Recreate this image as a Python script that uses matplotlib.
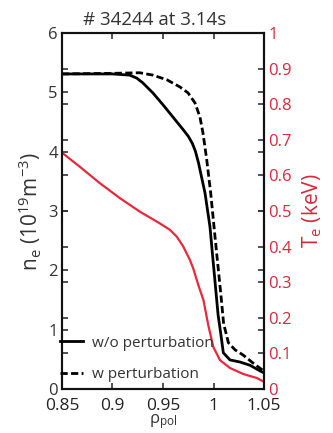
import matplotlib
matplotlib.use("Agg")
import matplotlib.pyplot as plt

plt.rcParams['font.family'] = ['Open Sans', 'DejaVu Sans']
plt.rcParams['mathtext.fontset'] = 'custom'
plt.rcParams['mathtext.rm'] = 'Open Sans'
plt.rcParams['mathtext.it'] = 'Open Sans'

# n_e without perturbation (solid)
rho_wo = [0.85, 0.90, 0.917, 0.924, 0.930, 0.940, 0.950, 0.960, 0.970, 0.975,
          0.979, 0.982, 0.985, 0.9916, 0.9965, 0.9995, 1.0025, 1.0045, 1.0071,
          1.0097, 1.0163, 1.0262, 1.0361, 1.0444, 1.05]
ne_wo = [5.31, 5.31, 5.29, 5.24, 5.16, 4.99, 4.79, 4.58, 4.37, 4.26,
         4.14, 4.01, 3.82, 3.30, 2.73, 2.17, 1.62, 1.25, 0.94,
         0.61, 0.49, 0.455, 0.40, 0.32, 0.27]

# n_e with perturbation (dashed)
rho_w = [0.85, 0.90, 0.927, 0.940, 0.954, 0.9668, 0.9748, 0.9817, 0.9866, 0.9896,
         0.9933, 0.9972, 1.0005, 1.0038, 1.0071, 1.0100, 1.0147, 1.0213, 1.0295,
         1.0378, 1.046, 1.05]
ne_w = [5.31, 5.32, 5.33, 5.29, 5.21, 5.09, 4.99, 4.82, 4.58, 4.31,
        3.86, 3.30, 2.73, 2.17, 1.62, 1.10, 0.78, 0.66, 0.57,
        0.455, 0.35, 0.30]

# T_e (red, right axis)
rho_te = [0.85, 0.8678, 0.8876, 0.9074, 0.9272, 0.947, 0.9569, 0.9636, 0.9701,
          0.9767, 0.980, 0.983, 0.986, 0.990, 0.9949, 0.9998, 1.0064, 1.0163,
          1.0295, 1.0428, 1.05]
te = [0.664, 0.624, 0.578, 0.536, 0.498, 0.465, 0.447, 0.428, 0.400,
      0.362, 0.338, 0.31, 0.283, 0.25, 0.178, 0.118, 0.081, 0.059,
      0.042, 0.031, 0.020]

xticks = [0.85, 0.9, 0.95, 1.0, 1.05]
xticklabels = ['0.85', '0.9', '0.95', '1', '1.05']
yticks_left = [0, 1, 2, 3, 4, 5, 6]
yticks_right = [0, 0.1, 0.2, 0.3, 0.4, 0.5, 0.6, 0.7, 0.8, 0.9, 1.0]
yticklabels_right = ['0', '0.1', '0.2', '0.3', '0.4', '0.5', '0.6', '0.7', '0.8', '0.9', '1']

RED = '#e8283c'
TXTRED = '#d42a3a'
GRAY = '#333333'

fig = plt.figure(figsize=(3.33, 4.33), dpi=100)
ax = fig.add_axes([0.186, 0.1016, 0.607, 0.8222])
ax2 = ax.twinx()

l1, = ax.plot(rho_wo, ne_wo, color='black', lw=2.0, label='w/o perturbation',
              solid_joinstyle='round')
l2, = ax.plot(rho_w, ne_w, color='black', lw=2.0, ls=(0, (2.6, 1.2)),
              label='w perturbation')
ax2.plot(rho_te, te, color=RED, lw=1.6, solid_joinstyle='round')

ax.set_xlim(0.85, 1.05)
ax.set_ylim(0, 6)
ax2.set_ylim(0, 1)
ax.set_xticks(xticks)
ax.set_xticklabels(xticklabels)
ax.set_yticks(yticks_left)
ax2.set_yticks(yticks_right)
ax2.set_yticklabels(yticklabels_right)

ax.tick_params(direction='in', length=4, width=1.2, labelsize=12, colors=GRAY,
               top=True, right=True, pad=3)
ax.tick_params(axis='x', pad=6.5, labelsize=12.5, labelcolor='#222222')
ax2.tick_params(direction='in', length=4, width=1.2, labelsize=12, left=True, pad=3)
ax2.tick_params(axis='y', labelcolor=TXTRED, color=GRAY)

for a in (ax, ax2):
    for s in a.spines.values():
        s.set_linewidth(1.5)
        s.set_color('#111111')

ax.set_title('# 34244 at 3.14s', fontsize=13.5, color=GRAY, pad=6, x=0.46)
ax.set_ylabel(r'n$_\mathregular{e}$ (10$^\mathregular{19}$m$^\mathregular{-3}$)',
              fontsize=15, color=GRAY, labelpad=3)
ax2.set_ylabel(r'T$_\mathregular{e}$ (keV)', fontsize=15, color=TXTRED, labelpad=6)
ax.set_xlabel(r'$\mathregular{\rho}_\mathregular{pol}$', fontsize=12, color=GRAY,
              va='bottom')
ax.xaxis.set_label_coords(0.5, -0.119)

leg = ax.legend(handles=[l1, l2], loc='lower left', bbox_to_anchor=(-0.008, 0.02),
                frameon=False, fontsize=11, handlelength=1.5, handletextpad=0.55,
                labelspacing=1.05, borderaxespad=0.0, borderpad=0.0)
for t in leg.get_texts():
    t.set_color(GRAY)
ax.set_zorder(ax2.get_zorder() + 1)
ax.patch.set_visible(False)

fig.savefig('out.png', dpi=100)
